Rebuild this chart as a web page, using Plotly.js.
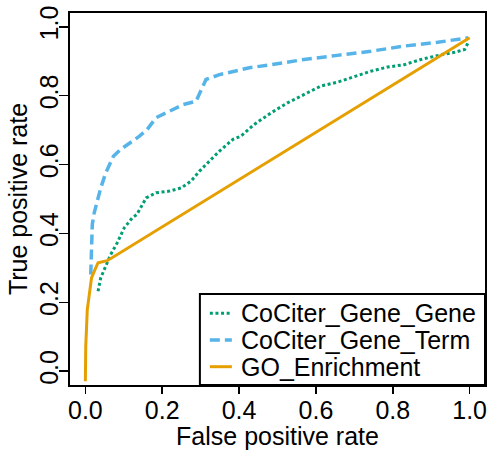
<!DOCTYPE html>
<html>
<head>
<meta charset="utf-8">
<script src="https://cdn.plot.ly/plotly-3.0.1.min.js"></script>
<style>html,body{margin:0;padding:0;background:#fff;}#chart{width:488px;height:450px;}</style>
</head>
<body>
<div id="chart"></div>
<script>
// CoCiter_Gene_Gene (green dotted)
var geneGeneFPR = [0.033, 0.040, 0.053, 0.066, 0.083, 0.101, 0.122, 0.134, 0.158, 0.184, 0.219, 0.249, 0.275, 0.297, 0.323, 0.349, 0.384, 0.404, 0.439, 0.483, 0.526, 0.569, 0.613, 0.656, 0.700, 0.743, 0.786, 0.830, 0.873, 0.917, 0.931, 0.961, 0.987, 0.996];
var geneGeneTPR = [0.232, 0.271, 0.305, 0.339, 0.373, 0.416, 0.445, 0.455, 0.503, 0.518, 0.523, 0.532, 0.552, 0.581, 0.610, 0.639, 0.673, 0.682, 0.716, 0.750, 0.779, 0.803, 0.828, 0.839, 0.855, 0.871, 0.883, 0.890, 0.905, 0.917, 0.920, 0.926, 0.934, 0.954];

// CoCiter_Gene_Term (blue dashed)
var geneTermFPR = [0.014, 0.016, 0.018, 0.023, 0.031, 0.040, 0.053, 0.062, 0.073, 0.092, 0.114, 0.140, 0.161, 0.184, 0.219, 0.254, 0.288, 0.301, 0.314, 0.349, 0.384, 0.427, 0.483, 0.569, 0.656, 0.743, 0.830, 0.917, 0.996];
var geneTermTPR = [0.281, 0.353, 0.426, 0.460, 0.499, 0.532, 0.576, 0.600, 0.624, 0.644, 0.661, 0.682, 0.702, 0.736, 0.755, 0.774, 0.784, 0.818, 0.847, 0.861, 0.871, 0.881, 0.890, 0.905, 0.917, 0.929, 0.944, 0.955, 0.968];

// GO_Enrichment (orange solid)
var goFPR = [0.000, 0.001, 0.005, 0.012, 0.016, 0.023, 0.033, 0.057, 1.000];
var goTPR = [-0.029, 0.073, 0.179, 0.237, 0.271, 0.290, 0.315, 0.321, 0.968];

var seriesNames = ["CoCiter_Gene_Gene", "CoCiter_Gene_Term", "GO_Enrichment"];
var seriesColors = ["#009E73", "#56B4E9", "#E69F00"];
var seriesDash = ["3px,2.6px", "10px,5px", "solid"];
var seriesWidth = [3, 3.5, 3];
var tickVals = [0, 0.2, 0.4, 0.6, 0.8, 1.0];
var tickText = ["0.0", "0.2", "0.4", "0.6", "0.8", "1.0"];

var FONT = '"Liberation Sans", Arial, Helvetica, sans-serif';
var FS = 25;

var xs = [geneGeneFPR, geneTermFPR, goFPR];
var ys = [geneGeneTPR, geneTermTPR, goTPR];
var traces = seriesNames.map(function (n, i) {
  return {x: xs[i], y: ys[i], name: n, mode: 'lines', type: 'scatter',
          line: {color: seriesColors[i], width: seriesWidth[i], dash: seriesDash[i]}};
});

// Legend box (paper coordinates of the plot area)
var legX0 = 0.313, legTop = 0.2446;
var legSampleX0 = 0.337, legSampleX1 = 0.390, legTextX = 0.408;
var legRowY = [0.1927, 0.121, 0.0492];

var shapes = [{type: 'rect', xref: 'paper', yref: 'paper', x0: legX0, x1: 1, y0: 0, y1: legTop,
               line: {color: '#000', width: 2}, fillcolor: '#fff', layer: 'above'}];
var annotations = [];
seriesNames.forEach(function (n, i) {
  shapes.push({type: 'line', xref: 'paper', yref: 'paper', x0: legSampleX0, x1: legSampleX1,
               y0: legRowY[i], y1: legRowY[i], layer: 'above',
               line: {color: seriesColors[i], width: seriesWidth[i], dash: seriesDash[i]}});
  annotations.push({xref: 'paper', yref: 'paper', x: legTextX, y: legRowY[i],
                    xanchor: 'left', yanchor: 'middle', showarrow: false, text: n,
                    font: {family: FONT, size: FS, color: '#000'}});
});

var layout = {
  width: 488, height: 450,
  margin: {l: 70, r: 3, t: 13, b: 65},
  paper_bgcolor: '#fff', plot_bgcolor: '#fff',
  font: {family: FONT, size: FS, color: '#000'},
  showlegend: false,
  shapes: shapes,
  annotations: annotations,
  xaxis: {range: [-0.04, 1.04], tickvals: tickVals, ticktext: tickText,
          showgrid: false, zeroline: false, showline: true, mirror: true,
          linecolor: '#000', linewidth: 2, ticks: 'outside', ticklen: 7, tickwidth: 1.5,
          tickcolor: '#000', tickfont: {family: FONT, size: FS}, ticklabelstandoff: -5,
          title: {text: 'False positive rate', font: {family: FONT, size: FS}, standoff: 8}},
  yaxis: {range: [-0.04, 1.04], tickvals: tickVals, ticktext: tickText, tickangle: -90,
          showgrid: false, zeroline: false, showline: true, mirror: true,
          linecolor: '#000', linewidth: 2, ticks: 'outside', ticklen: 9, tickwidth: 1.5,
          tickcolor: '#000', tickfont: {family: FONT, size: FS}, ticklabelstandoff: -9,
          title: {text: 'True positive rate', font: {family: FONT, size: FS}, standoff: 0}}
};

Plotly.newPlot('chart', traces, layout, {displayModeBar: false, staticPlot: true});
</script>
</body>
</html>
